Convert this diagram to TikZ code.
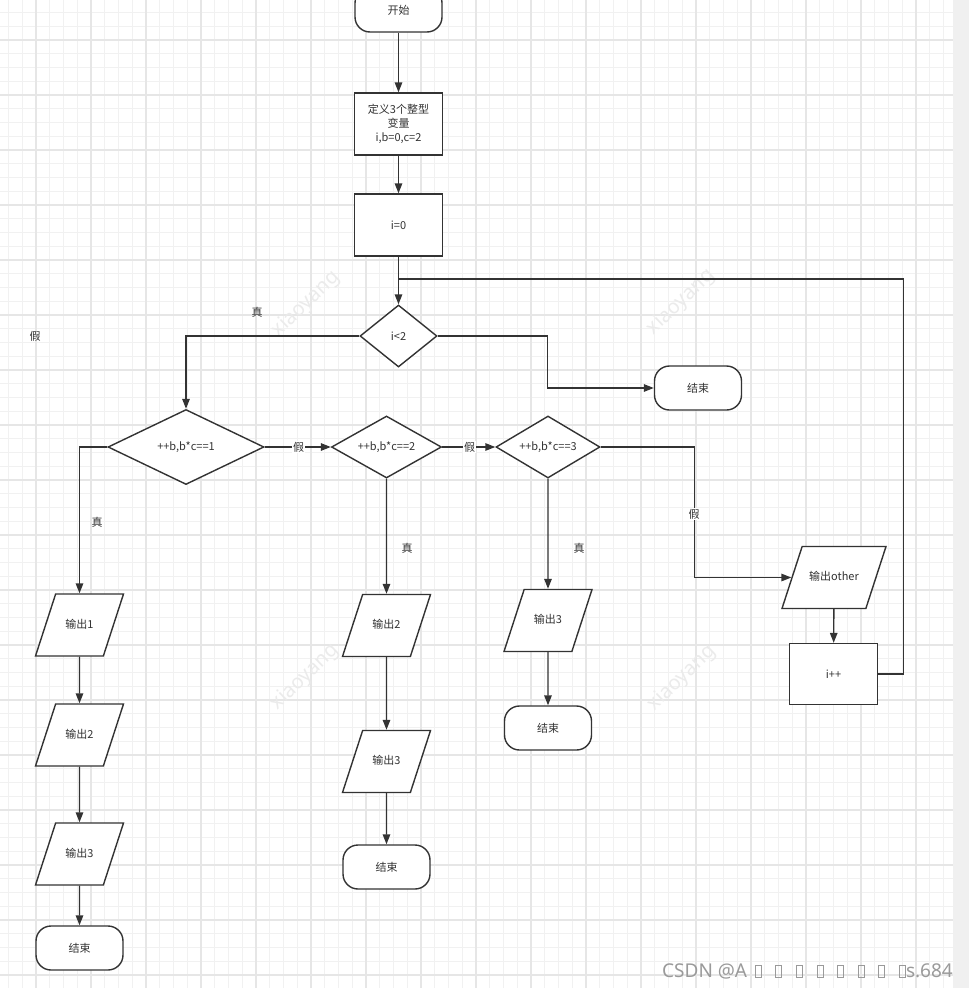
\documentclass[tikz,border=0pt]{standalone}
\usepackage{fontspec}
\setmainfont{Noto Sans CJK SC}
\newfontfamily\latinsans{Noto Sans}
\usetikzlibrary{shapes.geometric,arrows.meta}
\definecolor{ln}{HTML}{333333}
\definecolor{tx}{HTML}{333333}
\definecolor{gmin}{HTML}{F1F1F1}
\definecolor{gmaj}{HTML}{E6E6E6}
\definecolor{strip}{HTML}{F0F0F0}
\definecolor{wm}{HTML}{EBEBEB}
\definecolor{csdn}{HTML}{9A9A9A}
\begin{document}
\begin{tikzpicture}[x=1pt,y=-1pt,
  font=\fontsize{11}{14}\selectfont,
  base/.style={draw=ln, line width=1.4pt, fill=white, inner sep=2pt, text=tx},
  term/.style={base, rectangle, rounded corners=15pt, minimum width=87pt, minimum height=44pt},
  proc/.style={base, rectangle, minimum width=88pt, minimum height=62pt, align=center},
  dec/.style={base, diamond, shape aspect=2, inner sep=0pt},
  io/.style={base, trapezium, trapezium left angle=72, trapezium right angle=108,
             trapezium stretches body, text height=8.5pt, text depth=2.5pt,
             inner xsep=2pt, inner ysep=25.5pt, minimum width=88pt},
  conn/.style={draw=ln, line width=1.4pt},
  arr/.style={conn, -{Triangle[length=10pt,width=7.5pt]}},
  onlab/.style={fill=white, inner sep=1pt, text=tx},
  offlab/.style={inner sep=1pt, text=tx},
  wmk/.style={text=wm, font=\latinsans\fontsize{20}{20}\selectfont, rotate=44},
  csdnfont/.style={text=csdn, font=\latinsans\fontsize{19}{19}\selectfont, inner sep=0pt}
]
\useasboundingbox (0,0) rectangle (969,988);
\clip (0,0) rectangle (969,988);
\fill[white] (0,0) rectangle (969,988);
% grid
\foreach \k in {0,...,68} \draw[gmin, line width=0.9pt] ({8.5+13.75*\k},0) -- ++(0,988);
\foreach \k in {0,...,71} \draw[gmin, line width=0.9pt] (0,{12.5+13.75*\k}) -- (953,{12.5+13.75*\k});
\foreach \k in {0,...,16} \draw[gmaj, line width=1.2pt] ({36+55*\k},0) -- ++(0,988);
\foreach \k in {0,...,17} \draw[gmaj, line width=1.2pt] (0,{40+55*\k}) -- (953,{40+55*\k});
\fill[strip] (953,0) rectangle (969,988);
% watermarks
\node[wmk] (wm1) at (306,304) {xiaoyang};
\node[wmk] (wm2) at (681,302) {xiaoyang};
\node[wmk] (wm3) at (305,677) {xiaoyang};
\node[wmk] (wm4) at (682,678) {xiaoyang};

% nodes
\node[term] (start) at (398.5,10) {开始};
\node[proc] (def) at (398.5,124) {定义3个整型\\变量\\i,b=0,c=2};
\node[proc] (init) at (398.5,225) {i=0};
\coordinate (j) at (398.5,279);
\node[dec, minimum width=77pt, minimum height=62pt] (c0) at (398.5,336) {i<2};
\node[term] (end0) at (698,388) {结束};

\node[dec, minimum width=156pt, minimum height=75pt] (d1) at (186,447) {++b,b*c==1};
\node[dec, minimum width=110pt, minimum height=62pt] (d2) at (386.5,447) {++b,b*c==2};
\node[dec, minimum width=104pt, minimum height=62pt] (d3) at (548,447) {++b,b*c==3};

\node[io] (o11) at (79.5,625) {输出1};
\node[io] (o12) at (79.5,735) {输出2};
\node[io] (o13) at (79.5,854) {输出3};
\node[term] (e1) at (79.5,948) {结束};

\node[io] (o22) at (386.5,625.5) {输出2};
\node[io] (o23) at (386.5,761.5) {输出3};
\node[term] (e2) at (386.5,867) {结束};

\node[io] (o33) at (548,620.5) {输出3};
\node[term] (e3) at (548,728) {结束};

\node[io, minimum width=104pt] (oth) at (834,577.5) {输出other};
\node[proc, minimum height=61pt] (inc) at (833.5,674) {i++};

% connectors
\draw[arr] (start) -- (def);
\draw[arr] (def) -- (init);
\draw[arr] (init.south) -- (c0.north);
\draw[conn] (inc.east) -- ++(25.5,0) |- (j);
\draw[arr] (c0.west) -| (d1.north);
\draw[arr] (c0.east) -- ++(110,0) |- (end0.west);

\draw[arr] (d1.west) -| (o11.north);
\draw[arr] (d1.east) -- (d2.west);
\draw[arr] (d2.east) -- (d3.west);
\draw[arr] (d2.south) -- (o22.north);
\draw[arr] (d3.south) -- (o33.north);
\draw[arr] (d3.east) -- ++(94,0) |- (oth.west);

\draw[arr] (o11) -- (o12);
\draw[arr] (o12) -- (o13);
\draw[arr] (o13) -- (e1);
\draw[arr] (o22) -- (o23);
\draw[arr] (o23) -- (e2);
\draw[arr] (o33) -- (e3);
\draw[arr] (oth) -- (inc);

% labels
\node[offlab] (t0) at (257,312) {真};
\node[offlab] (f0) at (35,336) {假};
\node[offlab] (t1) at (97,522) {真};
\node[onlab] (f1) at (298.5,447) {假};
\node[onlab] (f2) at (469.5,447) {假};
\node[offlab] (t2) at (407,548) {真};
\node[offlab] (t3) at (579,548) {真};
\node[onlab] (f3) at (694,514) {假};

% CSDN mark
\node[csdnfont, anchor=base west] (cs1) at (662,977) {CSDN @A};
\foreach \k in {0,...,7} \draw[csdn, line width=0.6pt] ({755+20.6*\k},965) rectangle ++(6,12);
\node[csdnfont, anchor=base east] (cs2) at (953,977) {s.684};
\end{tikzpicture}
\end{document}
